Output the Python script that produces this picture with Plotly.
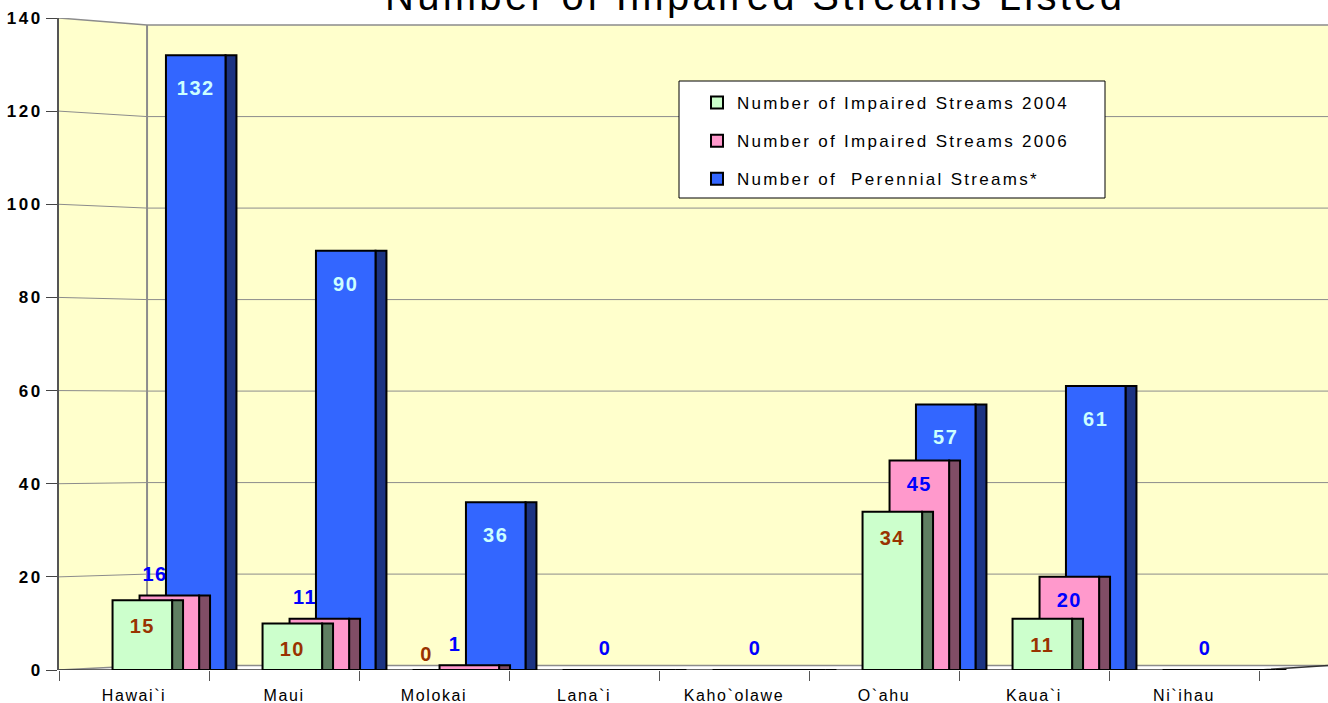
import plotly.graph_objects as go

# ---- data -----------------------------------------------------------------
islands = ["Hawai`i", "Maui", "Molokai", "Lana`i", "Kaho`olawe", "O`ahu", "Kaua`i", "Ni`ihau"]
impaired_2004 = [15, 10, 0, 0, 0, 34, 11, 0]
impaired_2006 = [16, 11, 1, 0, 0, 45, 20, 0]
perennial = [132, 90, 36, 0, 0, 57, 61, 0]
show_2004_label = [True, True, True, False, False, True, True, False]
y_ticks = [0, 20, 40, 60, 80, 100, 120, 140]

# ---- styling constants ----------------------------------------------------
FONT = "Liberation Sans, Arial, sans-serif"
WALL = "#FFFFCC"
GRID = "#8c8c8c"
FACE_W = 0.397          # width of a bar's front face (category units)
SIDE_W = 0.073          # width of the shaded side face
X_MIN, X_MAX = -0.5, 7.96
WALL_X = -0.5 + 0.587   # where the side wall meets the back wall


def spaced(txt, px):
    return f"<span style='letter-spacing:{px}px'>{txt}</span>"


def back(v):
    """Height on the back wall that lines up with front value v."""
    return 0.945 + 0.9824 * v


n = len(islands)
xs = list(range(n))

series = [
    # drawn back to front
    dict(name="Number of  Perennial Streams*", vals=perennial, face="#3366FF",
         side="#1B3382", off=0.213, rank=3, lab="#CCFFFF", inside=-7.5),
    dict(name="Number of Impaired Streams 2006", vals=impaired_2006, face="#FF99CC",
         side="#804D66", off=0.037, rank=2, lab="#0000FF", inside=-5.4),
    dict(name="Number of Impaired Streams 2004", vals=impaired_2004, face="#CCFFCC",
         side="#5F7F62", off=-0.143, rank=1, lab="#993300", inside=-6.0),
]

fig = go.Figure()

for s in series:
    # shaded side face
    fig.add_trace(go.Bar(
        x=xs, y=s["vals"], offset=s["off"] + FACE_W, width=SIDE_W,
        marker=dict(color=s["side"], line=dict(color="black", width=2)),
        showlegend=False, hoverinfo="skip",
    ))
    # front face
    fig.add_trace(go.Bar(
        x=xs, y=s["vals"], offset=s["off"], width=FACE_W,
        marker=dict(color=s["face"], line=dict(color="black", width=2)),
        name=spaced(s["name"], 2.3), legendgroup=s["name"], legendrank=s["rank"],
        hoverinfo="skip",
    ))

# ---- value labels ---------------------------------------------------------
label_font = dict(family=FONT, size=20, weight="bold")

blue, pink, green = series
bx, by, bt = [], [], []
for i, v in enumerate(perennial):
    if v > 0:
        bx.append(i + blue["off"] + FACE_W / 2)
        by.append(v + blue["inside"])
        bt.append(spaced(v, 1.5))

px_, py_, pt_ = [], [], []
for i, v in enumerate(impaired_2006):
    if v >= 20:
        px_.append(i + pink["off"] + FACE_W / 2)
        py_.append(v + pink["inside"])
    else:
        px_.append(i + 0.14)
        py_.append(v + 4.2)
    pt_.append(spaced(v, 1.5))

gx, gy, gt = [], [], []
for i, v in enumerate(impaired_2004):
    if not show_2004_label[i]:
        continue
    if v > 0:
        gx.append(i + green["off"] + FACE_W / 2)
        gy.append(v + green["inside"])
    else:
        gx.append(i - 0.05)
        gy.append(v + 3)
    gt.append(spaced(v, 1.5))

for lx, ly, lt, col in [(bx, by, bt, blue["lab"]), (px_, py_, pt_, pink["lab"]),
                        (gx, gy, gt, green["lab"])]:
    fig.add_trace(go.Scatter(
        x=lx, y=ly, text=lt, mode="text", textposition="middle center",
        textfont=dict(color=col, **label_font), showlegend=False,
        hoverinfo="skip", cliponaxis=False,
    ))

# ---- 3-D walls, gridlines and floor --------------------------------------
shapes = [
    # back wall
    dict(type="rect", xref="x", yref="y", x0=WALL_X, x1=X_MAX, y0=back(0), y1=back(140),
         fillcolor=WALL, line=dict(width=0), layer="below"),
    # left side wall
    dict(type="path", xref="x", yref="y",
         path=f"M {X_MIN},0 L {X_MIN},140 L {WALL_X},{back(140)} L {WALL_X},{back(0)} Z",
         fillcolor=WALL, line=dict(width=0), layer="below"),
]
for v in y_ticks:
    shapes.append(dict(
        type="path", xref="x", yref="y",
        path=f"M {X_MIN},{v} L {WALL_X},{back(v)} L {X_MAX},{back(v)}",
        line=dict(color=GRID, width=1.5 if v in (0, 140) else 1), layer="below",
    ))
shapes.append(dict(type="line", xref="x", yref="y", x0=WALL_X, x1=WALL_X,
                   y0=back(0), y1=back(140), line=dict(color=GRID, width=2), layer="below"))
# front edge of the floor
shapes.append(dict(type="path", xref="x", yref="y",
                   path=f"M {X_MIN},0 L 7.5,0 L {X_MAX},{back(0)}",
                   line=dict(color="#333333", width=1.5), layer="below"))
# legend frame
shapes.append(dict(type="rect", xref="paper", yref="paper",
                   x0=(679 - 59) / 1269, x1=(1105 - 59) / 1269,
                   y0=(670 - 198) / 652, y1=(670 - 81) / 652,
                   fillcolor="white", line=dict(color="black", width=1), layer="above"))

fig.update_layout(
    width=1328, height=703,
    margin=dict(l=59, r=0, t=18, b=33),
    paper_bgcolor="white", plot_bgcolor="white",
    barmode="overlay",
    font=dict(family=FONT, color="black"),
    shapes=shapes,
    showlegend=True,
    legend=dict(
        x=(697 - 59) / 1269, y=(670 - 85) / 652, xanchor="left", yanchor="top",
        bgcolor="rgba(0,0,0,0)", borderwidth=0,
        font=dict(family=FONT, size=17, color="black"),
        tracegroupgap=13, itemwidth=30,
    ),
    annotations=[dict(
        text=spaced("Number of Impaired Streams Listed", 3.3),
        xref="paper", yref="paper", x=(755 - 59) / 1269, y=1,
        xanchor="center", yanchor="bottom", yshift=-2, showarrow=False,
        font=dict(family=FONT, size=40, color="black"),
    )],
    xaxis=dict(
        range=[X_MIN, X_MAX], tickmode="array", tickvals=xs,
        ticktext=[spaced(t, 1.6) for t in islands], ticks="",
        tickfont=dict(family=FONT, size=16, color="black"),
        showgrid=False, zeroline=False, showline=False,
        ticklabelstandoff=14,
        minor=dict(tickmode="array", tickvals=[i - 0.5 for i in range(n + 1)],
                   ticks="outside", ticklen=10, tickcolor="#555555", tickwidth=1,
                   showgrid=False),
    ),
    yaxis=dict(
        range=[0, 140], tickmode="array", tickvals=y_ticks,
        ticktext=[spaced(t, 2.5) for t in y_ticks],
        ticks="outside", ticklen=11, tickcolor="#444444", tickwidth=1,
        tickfont=dict(family=FONT, size=17, color="black", weight="bold"),
        showgrid=False, zeroline=False,
        showline=True, linecolor="#555555", linewidth=2,
    ),
)

fig.write_html("out.html")
